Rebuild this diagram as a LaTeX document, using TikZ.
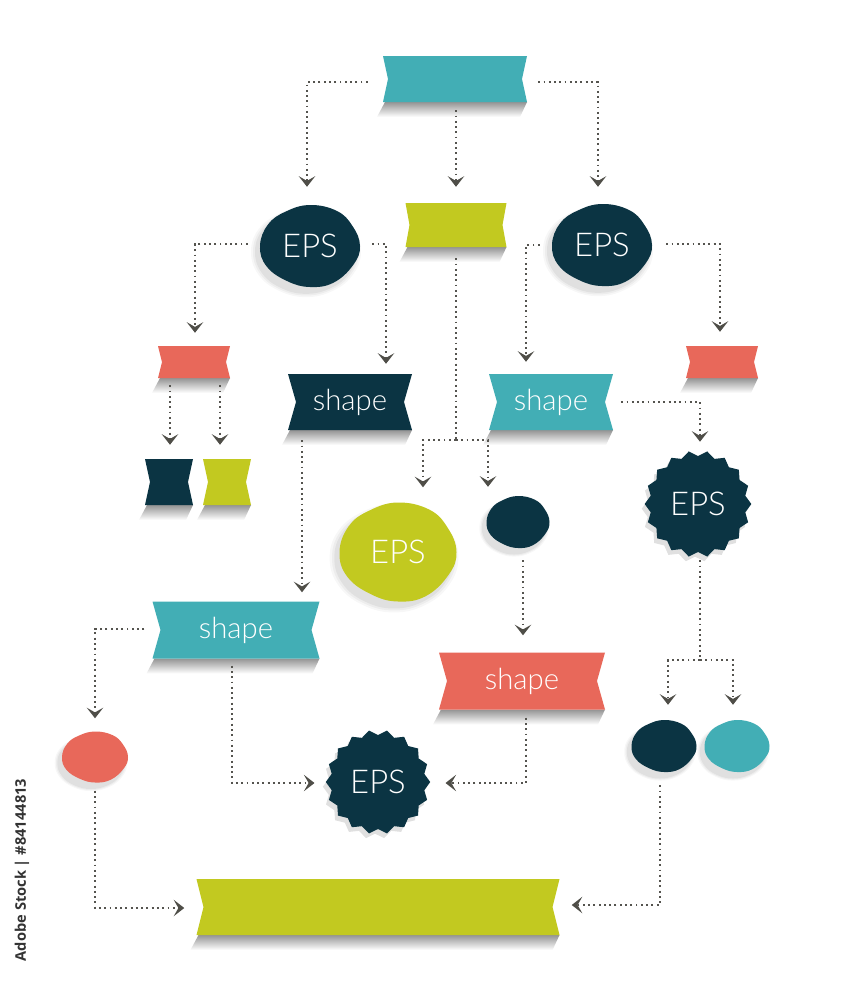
\documentclass[tikz,border=0pt]{standalone}
\usepackage{fontspec}
\newfontfamily\lightfont{Lato Light}
\newfontfamily\wmfont{Open Sans}
\usetikzlibrary{arrows.meta,calc,shapes.geometric,shadows}
\definecolor{cteal}{HTML}{42AEB5}
\definecolor{cnavy}{HTML}{0B3443}
\definecolor{clime}{HTML}{C2C920}
\definecolor{cred}{HTML}{E8685A}
\definecolor{dotc}{HTML}{55544F}
\definecolor{arrc}{HTML}{4F4E48}
\tikzset{
  connl/.style={draw=dotc, line width=1.6pt, dash pattern=on 1.6pt off 2.9pt},
  conn/.style={connl, -{Stealth[length=9pt,width=14pt,inset=4pt,color=arrc]}},
  eps/.style={text=white, font=\lightfont\fontsize{28}{30}\selectfont, inner sep=0pt},
  shp/.style={text=white, font=\lightfont\fontsize{25}{28}\selectfont, inner sep=0pt},
  box/.style={rectangle, inner sep=0pt},
  starbox/.style={star, star points=18, star point ratio=0.9, fill=cnavy, inner sep=0pt,
    drop shadow={shadow xshift=-2.5pt, shadow yshift=-4pt, opacity=0.12, fill=black}},
}
\def\blobpts{(0:1) (30:0.99) (60:0.99) (90:1) (120:0.99) (150:1.0) (180:1) (210:1.0) (240:0.98) (270:1) (300:1.0) (330:1.0)}
% ribbon: name, x, y, w, h, notch, colour, text style, text
\newcommand\ribbon[9]{%
  \shade[top color=black!42, bottom color=white]
    ({#2-#4/2+2},{#3+#5/2}) -- ({#2+#4/2},{#3+#5/2}) -- ({#2+#4/2-7},{#3+#5/2+15}) -- ({#2-#4/2-6},{#3+#5/2+15}) -- cycle;
  \fill[#7] ({#2-#4/2},{#3-#5/2}) -- ({#2+#4/2},{#3-#5/2}) -- ({#2+#4/2-#6},#3) -- ({#2+#4/2},{#3+#5/2})
     -- ({#2-#4/2},{#3+#5/2}) -- ({#2-#4/2+#6},#3) -- cycle;
  \node[box, #8, minimum width=#4*0.03cm, minimum height=#5*0.03cm] (#1) at (#2,#3) {#9};
}
% blob: name, x, y, w, h, colour, text
\newcommand\blob[7]{%
  \foreach \k/\o in {1.1/0.03,1.06/0.04,1.02/0.05}{
    \begin{scope}[shift={({#2-4},{#3+6})}, xscale={#4/2*\k}, yscale={#5/2*\k}]
      \fill[black, opacity=\o] plot[smooth cycle, tension=0.7] coordinates {\blobpts};
    \end{scope}}
  \begin{scope}[shift={(#2,#3)}, xscale={#4/2}, yscale={#5/2}]
    \fill[#6] plot[smooth cycle, tension=0.7] coordinates {(0:1) (28:0.98) (62:1.01) (90:1) (118:0.97) (150:1.0) (180:1) (212:0.99) (240:0.97) (270:1) (302:1.01) (330:0.98)};
  \end{scope}
  \node[ellipse, eps, minimum width=#4*0.03cm, minimum height=#5*0.03cm] (#1) at (#2,#3) {#7};
}
\begin{document}
\begin{tikzpicture}[x=0.03cm, y=-0.03cm]
\fill[white] (0,0) rectangle (848,1000);
\useasboundingbox (0,0) rectangle (848,1000);

% ribbons
\ribbon{T}{455}{79}{144}{46}{5}{cteal}{shp}{}
\ribbon{L}{456}{225}{101}{44}{4}{clime}{shp}{}
\ribbon{R1}{194}{362}{72}{32}{4}{cred}{shp}{}
\ribbon{R2}{722}{362}{72}{32}{4}{cred}{shp}{}
\ribbon{S1}{350}{402}{124}{56}{8}{cnavy}{shp}{shape}
\ribbon{S2}{551}{402}{124}{56}{8}{cteal}{shp}{shape}
\ribbon{H1}{169}{482}{48}{46}{5}{cnavy}{shp}{}
\ribbon{H2}{227}{482}{48}{46}{5}{clime}{shp}{}
\ribbon{S3}{236}{630}{167}{57}{8}{cteal}{shp}{shape}
\ribbon{S4}{522}{681}{166}{57}{8}{cred}{shp}{shape}
\ribbon{BOT}{378}{907}{363}{56}{7}{clime}{shp}{}

% blobs
\blob{E1}{310}{246}{100}{82}{cnavy}{EPS}
\blob{E2}{602}{245}{100}{82}{cnavy}{EPS}
\blob{B1}{398}{552}{117}{99}{clime}{EPS}
\blob{B2}{518}{522}{63}{52}{cnavy}{}
\blob{B3}{95}{757}{66}{51}{cred}{}
\blob{B4}{664}{746}{65}{52}{cnavy}{}
\blob{B5}{737}{746}{65}{52}{cteal}{}

% stars
\node[starbox, minimum size=96*0.03cm] (ST1) at (698,504) {};
\node[eps] (ST1t) at (ST1.center) {EPS};
\node[starbox, minimum size=94*0.03cm] (ST2) at (378,782) {};
\node[eps] (ST2t) at (ST2.center) {EPS};

% junctions
\coordinate (J1) at (456,440);
\coordinate (J2) at (700,660);

% connectors
\draw[conn] ($(T.west)+(-15,3)$) -| ($(E1.north)+(-3,-18)$);
\draw[conn] ($(T.south)+(1,8)$) -- ($(L.north)+(0,-16)$);
\draw[conn] ($(T.east)+(11,3)$) -| ($(E2.north)+(-4,-17)$);
\draw[conn] ($(E1.west)+(-12,-2)$) -| ($(R1.north)+(1,-13)$);
\draw[conn] ($(E1.east)+(12,-2)$) -| ($(S1.north)+(36,-10)$);
\draw[connl] ($(L.south)+(0,11)$) -- (J1);
\draw[conn] (J1) -| ($(B1.north)+(25,-15)$);
\draw[conn] (J1) -| ($(B2.north)+(-30,-9)$);
\draw[conn] ($(E2.west)+(-12,0)$) -| ($(S2.north)+(-25,-12)$);
\draw[conn] ($(E2.east)+(14,-1)$) -| ($(R2.north)+(-2,-14)$);
\draw[conn] ($(R1.south)+(-24,7)$) -- ($(H1.north)+(1,-14)$);
\draw[conn] ($(R1.south)+(26,7)$) -- ($(H2.north)+(-7,-14)$);
\draw[conn] ($(S1.south)+(-48,10)$) -- ($(S3.north)+(66,-9)$);
\draw[conn] ($(S2.east)+(8,0)$) -| ($(ST1.north)+(2,-14)$);
\draw[conn] ($(B2.south)+(5,12)$) -- ($(S4.north)+(1,-17)$);
\draw[connl] ($(ST1.south)+(2,8)$) -- (J2);
\draw[conn] (J2) -| ($(B4.north)+(4,-15)$);
\draw[conn] (J2) -| ($(B5.north)+(-4,-15)$);
\draw[conn] ($(S3.west)+(-8,-1)$) -| ($(B3.north)+(0,-13)$);
\draw[conn] ($(S3.south)+(-4,7)$) |- ($(ST2.west)+(-11,1)$);
\draw[conn] ($(S4.south)+(4,8)$) |- ($(ST2.east)+(15,1)$);
\draw[conn] ($(B3.south)+(0,8)$) |- ($(BOT.west)+(-12,1)$);
\draw[conn] ($(B4.south)+(-4,13)$) |- ($(BOT.east)+(12,-2)$);

% side text
\node[rotate=90, font=\wmfont\bfseries\fontsize{12.5}{14}\selectfont, text=black!80, inner sep=0pt] (wm) at (22,870) {Adobe Stock | \#84144813};
\end{tikzpicture}
\end{document}
